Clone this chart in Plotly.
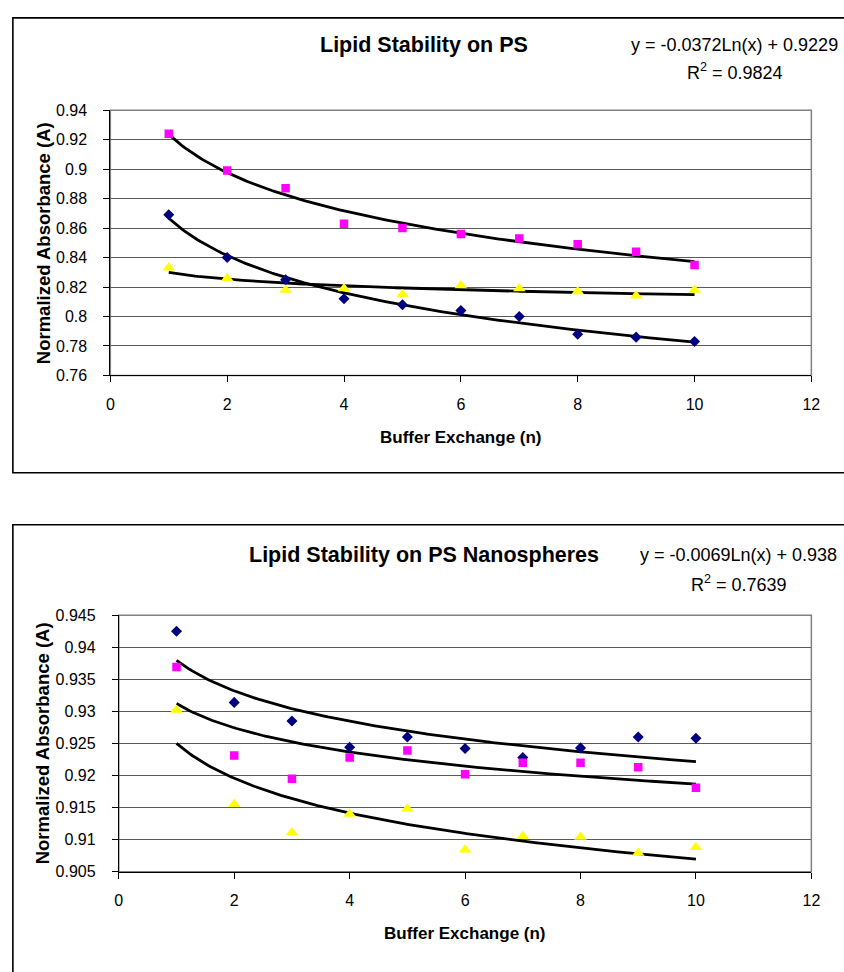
import numpy as np
import plotly.graph_objects as go

W, H = 844, 972

# ---------------- data ----------------
buffer_exchange = [1, 2, 3, 4, 5, 6, 7, 8, 9, 10]

# Top chart: Lipid Stability on PS
ps_diamond = [0.869, 0.840, 0.825, 0.812, 0.808, 0.804, 0.800, 0.788, 0.786, 0.783]
ps_square = [0.924, 0.899, 0.887, 0.863, 0.860, 0.856, 0.853, 0.849, 0.844, 0.835]
ps_triangle = [0.833, 0.826, 0.818, 0.819, 0.815, 0.821, 0.819, 0.817, 0.814, 0.818]

# Bottom chart: Lipid Stability on PS Nanospheres
nano_diamond = [0.9425, 0.9314, 0.9285, 0.9244, 0.9260, 0.9242, 0.9228, 0.9243, 0.9260, 0.9258]
nano_square = [0.9369, 0.9231, 0.9195, 0.9228, 0.9239, 0.9202, 0.9220, 0.9220, 0.9213, 0.9181]
nano_triangle = [0.9302, 0.9155, 0.9111, 0.9140, 0.9148, 0.9084, 0.9105, 0.9104, 0.9079, 0.9088]

x_ticks = [0, 2, 4, 6, 8, 10, 12]
top_y_ticks = [0.76, 0.78, 0.80, 0.82, 0.84, 0.86, 0.88, 0.90, 0.92, 0.94]
top_y_labels = ["0.76", "0.78", "0.8", "0.82", "0.84", "0.86", "0.88", "0.9", "0.92", "0.94"]
bot_y_ticks = [0.905, 0.910, 0.915, 0.920, 0.925, 0.930, 0.935, 0.940, 0.945]
bot_y_labels = ["0.905", "0.91", "0.915", "0.92", "0.925", "0.93", "0.935", "0.94", "0.945"]

top_title = "Lipid Stability on PS"
bot_title = "Lipid Stability on PS Nanospheres"
top_eq = ["y = -0.0372Ln(x) + 0.9229", "R<sup>2</sup> = 0.9824"]
bot_eq = ["y = -0.0069Ln(x) + 0.938", "R<sup>2</sup> = 0.7639"]
x_title = "Buffer Exchange (n)"
y_title = "Normalized Absorbance (A)"

# ---------------- helpers ----------------
FONT = "Liberation Sans, Arial, sans-serif"


def px(x):
    return x / W


def py(y):
    return 1 - y / H


def log_fit(xs, ys):
    lx = np.log(np.array(xs, dtype=float))
    slope, icpt = np.polyfit(lx, np.array(ys, dtype=float), 1)
    xf = np.linspace(min(xs), max(xs), 200)
    return xf, slope * np.log(xf) + icpt


fig = go.Figure()

series_style = [
    dict(symbol="diamond", color="#000080", size=8.5),
    dict(symbol="square", color="#FF00FF", size=8.5),
    dict(symbol="triangle-up", color="#FFFF00", size=11),
]


def add_chart(xa, ya, sets):
    for ys, st in zip(sets, series_style):
        xf, yf = log_fit(buffer_exchange, ys)
        fig.add_trace(go.Scatter(x=xf, y=yf, mode="lines", xaxis=xa, yaxis=ya,
                                 line=dict(color="black", width=2.8), showlegend=False,
                                 hoverinfo="skip"))
    for ys, st in zip(sets, series_style):
        fig.add_trace(go.Scatter(x=buffer_exchange, y=ys, mode="markers", xaxis=xa, yaxis=ya,
                                 marker=dict(symbol=st["symbol"], color=st["color"], size=st["size"],
                                             line=dict(width=0)),
                                 showlegend=False))


add_chart("x", "y", [ps_diamond, ps_square, ps_triangle])
add_chart("x2", "y2", [nano_diamond, nano_square, nano_triangle])

# plot-area geometry (pixels)
top_area = dict(l=108, r=820, t=104, b=374)
bot_area = dict(l=116.6, r=820, t=618, b=879)

common_x = dict(range=[0, 12], tickvals=x_ticks, ticks="outside", ticklen=6, tickcolor="black",
                showline=True, linecolor="black", linewidth=1, showgrid=False, zeroline=False,
                tickfont=dict(family=FONT, size=16, color="black"), ticklabelstandoff=8)
common_y = dict(ticks="outside", ticklen=6, tickcolor="black", showline=True, linecolor="black",
                linewidth=1, showgrid=True, gridcolor="#5a5a5a", gridwidth=1, zeroline=False,
                tickfont=dict(family=FONT, size=16, color="black"), ticklabelstandoff=13)

fig.update_layout(
    width=W, height=H, margin=dict(l=0, r=0, t=0, b=0),
    paper_bgcolor="white", plot_bgcolor="white", showlegend=False,
    xaxis=dict(domain=[px(top_area["l"]), px(top_area["r"])], anchor="y", **common_x),
    yaxis=dict(domain=[py(top_area["b"]), py(top_area["t"])], anchor="x",
               range=[0.76, 0.94], tickvals=top_y_ticks, ticktext=top_y_labels, **common_y),
    xaxis2=dict(domain=[px(bot_area["l"]), px(bot_area["r"])], anchor="y2", **common_x),
    yaxis2=dict(domain=[py(bot_area["b"]), py(bot_area["t"])], anchor="x2",
                range=[0.905, 0.945], tickvals=bot_y_ticks, ticktext=bot_y_labels, **common_y),
)

shapes = []
# chart-area boxes
shapes.append(dict(type="rect", xref="paper", yref="paper", x0=px(9), x1=px(900), y0=py(473), y1=py(10),
                   line=dict(color="black", width=1.6), layer="below"))
shapes.append(dict(type="rect", xref="paper", yref="paper", x0=px(9), x1=px(900), y0=py(1100), y1=py(526),
                   line=dict(color="black", width=1.6), layer="below"))
# plot-area borders
for a in (top_area, bot_area):
    shapes.append(dict(type="rect", xref="paper", yref="paper", x0=px(a["l"]), x1=px(a["r"]),
                       y0=py(a["b"]), y1=py(a["t"]), line=dict(color="#808080", width=1.5),
                       layer="below"))
fig.update_layout(shapes=shapes)

ann = []


def text(x, y, s, size, bold=False, angle=0):
    ann.append(dict(x=px(x), y=py(y), xref="paper", yref="paper", text=s, showarrow=False,
                    xanchor="center", yanchor="middle", textangle=angle,
                    font=dict(family=FONT, size=size, color="black", weight="bold" if bold else "normal")))


# top chart texts
text(427, 38, top_title, 21.5, bold=True)
text(742, 38, top_eq[0], 18)
text(742, 65, top_eq[1], 18)
text(464, 437, x_title, 17, bold=True)
text(40, 239, y_title, 18.5, bold=True, angle=-90)

# bottom chart texts
text(427, 557, bot_title, 21.5, bold=True)
text(746, 557, bot_eq[0], 18)
text(746, 586, bot_eq[1], 18)
text(468, 942, x_title, 17, bold=True)
text(40, 748, y_title, 18.5, bold=True, angle=-90)

fig.update_layout(annotations=ann)

fig.write_html("out.html", config={"displayModeBar": False},
               post_script="document.body.style.margin='0';document.body.style.overflow='hidden';")
